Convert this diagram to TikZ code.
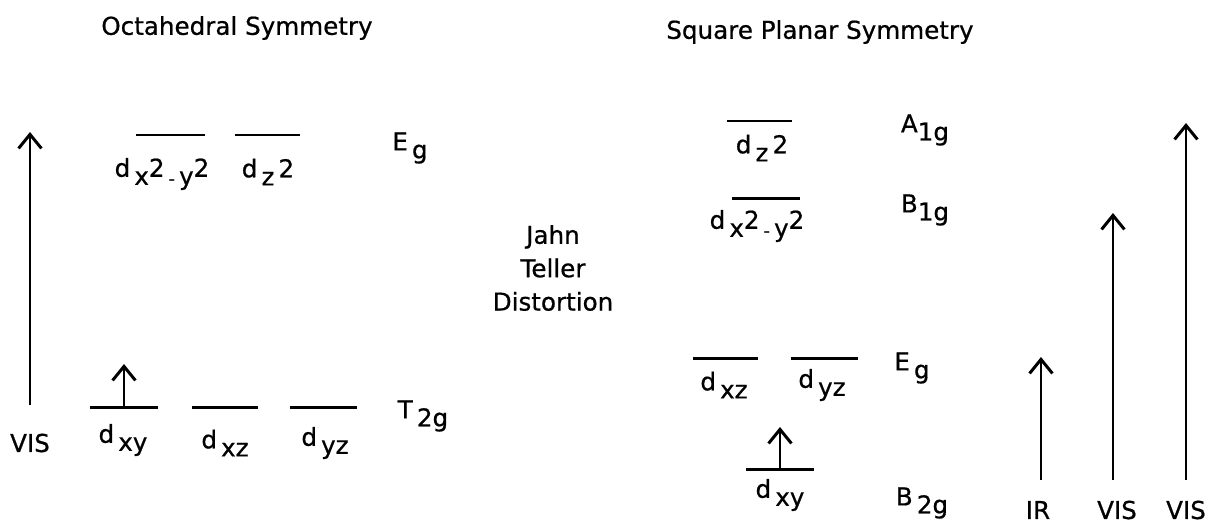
\documentclass[tikz,border=0pt]{standalone}
\usepackage{fontspec}
\setmainfont{DejaVu Sans}[FakeBold=0.7]
\usetikzlibrary{arrows.meta,positioning}
\newcommand{\dn}[1]{\raisebox{-0.6ex}{#1}}
\newcommand{\up}[1]{\raisebox{0.6ex}{#1}}
\newcommand{\orb}[1]{d\,\dn{#1}}
\newcommand{\orbsq}{d\,\dn{x\up{2}\,{\fontsize{10}{10}\selectfont-}\,y\up{2}}}
\newcommand{\orbzz}{d\,\dn{z}\,2}

\begin{document}
\begin{tikzpicture}[
    x=0.02cm,y=-0.02cm,
    every node/.style={font=\fontsize{14}{16}\selectfont,inner sep=0pt},
    level/.style={line width=1.7pt},
    trans/.style={line width=1.6pt,-{Straight Barb[length=8pt,width=13pt,line width=1.7pt]}},
    elec/.style={line width=1.6pt,-{Straight Barb[length=8pt,width=13pt,line width=1.7pt]}}
  ]
  \useasboundingbox (0,0) rectangle (1208,525);
  %% Titles
  \node (oh) at (237,28) {Octahedral Symmetry};
  \node (sq) at (820,32) {Square Planar Symmetry};
  %% Octahedral levels
  \draw[level] (136,135) -- (205,135);
  \draw[level] (235,135) -- (300,135);
  \draw[level] (90,407) -- (158,407);
  \draw[level] (192,407) -- (258,407);
  \draw[level] (290,407) -- (357,407);
  \node (ohsq) at (162,174) {\orbsq};
  \node (ohzz) at (268,172) {\orbzz};
  \node (ohxy) at (123,440) {\orb{xy}};
  \node (ohxz) at (225,443) {\orb{xz}};
  \node (ohyz) at (325,443) {\orb{yz}};
  \node (ohEg) at (410,148) {E\,\dn{g}};
  \node (ohT) at (423,416) {T\,\dn{2g}};
  %% electron and transition
  \coordinate (e1a) at (124,407);
  \coordinate (e1b) at (124,364);
  \draw[elec] (e1a) -- (e1b);
  \coordinate (v0a) at (30,405);
  \coordinate (v0b) at (30,132);
  \draw[trans] (v0a) -- (v0b);
  \node (vis0) at (30,443) {VIS};
  %% Jahn Teller
  \node[align=center] (jt) at (553,268) {Jahn\\[3pt]Teller\\[3pt]Distortion};
  %% Square planar levels
  \draw[level] (727,121) -- (792,121);
  \draw[level] (732,198) -- (800,198);
  \draw[level] (693,358) -- (758,358);
  \draw[level] (791,358) -- (858,358);
  \draw[level] (746,469) -- (814,469);
  \node (sqzz) at (762,148) {\orbzz};
  \node (sqsq) at (757,226) {\orbsq};
  \node (sqxz) at (724,385) {\orb{xz}};
  \node (sqyz) at (822,385) {\orb{yz}};
  \node (sqxy) at (780,495) {\orb{xy}};
  \node (sqA) at (925,130) {A\dn{1g}};
  \node (sqB1) at (925,210) {B\dn{1g}};
  \node (sqEg) at (912,368) {E\,\dn{g}};
  \node (sqB2) at (922,503) {B\,\dn{2g}};
  \coordinate (e2a) at (780,469);
  \coordinate (e2b) at (780,427);
  \draw[elec] (e2a) -- (e2b);
  %% transitions
  \coordinate (ira) at (1041,480);
  \coordinate (irb) at (1041,357);
  \coordinate (v1a) at (1113,480);
  \coordinate (v1b) at (1113,213);
  \coordinate (v2a) at (1186,480);
  \coordinate (v2b) at (1186,123);
  \draw[trans] (ira) -- (irb);
  \draw[trans] (v1a) -- (v1b);
  \draw[trans] (v2a) -- (v2b);
  \node (ir) at (1038,510) {IR};
  \node (vis1) at (1117,510) {VIS};
  \node (vis2) at (1186,510) {VIS};
\end{tikzpicture}
\end{document}
